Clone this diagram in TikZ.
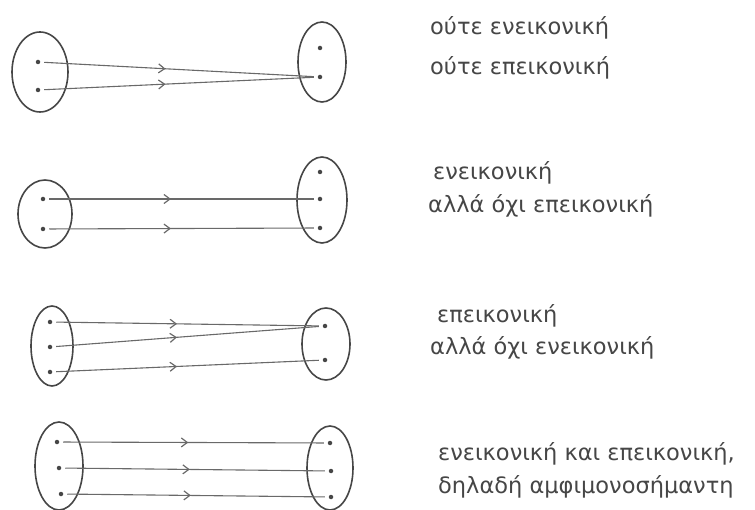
\documentclass[tikz,border=0pt]{standalone}
\usepackage{fontspec}
\setmainfont{DejaVu Sans}
\usetikzlibrary{shapes.geometric,decorations.markings,arrows.meta}
\definecolor{pencil}{RGB}{70,70,70}
\definecolor{lightpencil}{RGB}{105,105,105}
\tikzset{
 setbox/.style={ellipse,draw=pencil,line width=1.6pt,inner sep=0pt},
 pt/.style={circle,fill=pencil,inner sep=0pt,minimum size=4.5pt,outer sep=4pt},
 mapline/.style={draw=lightpencil,line width=1.1pt,postaction={decorate},
   decoration={markings,mark=at position #1 with {\arrow[lightpencil,line width=1.2pt]{Straight Barb[length=6pt,width=9pt]}}}},
 mapline/.default=0.5,
 lbl/.style={anchor=base west,text=pencil,inner sep=0pt,font=\fontsize{22.5}{22.5}\selectfont}
}
\begin{document}
\begin{tikzpicture}[x=1pt,y=-1pt]
\useasboundingbox (0,0) rectangle (755,510);
% Row 1
\node[setbox,minimum width=56pt,minimum height=80pt] (E1a) at (40,72) {};
\node[setbox,minimum width=48pt,minimum height=80pt] (E1b) at (322,62) {};
\node[pt] (a11) at (38,62) {};
\node[pt] (a12) at (38,90) {};
\node[pt] (b11) at (320,48) {};
\node[pt] (b12) at (320,77) {};
\draw[mapline=0.45] (a11) -- (b12);
\draw[mapline=0.45] (a12) -- (b12);
\node[lbl] (t11) at (430,35) {ούτε ενεικονική};
\node[lbl] (t12) at (430,75) {ούτε επεικονική};
% Row 2
\node[setbox,minimum width=54pt,minimum height=68pt] (E2a) at (45,214) {};
\node[setbox,minimum width=50pt,minimum height=86pt] (E2b) at (322,200) {};
\node[pt] (a21) at (43,199) {};
\node[pt] (a22) at (43,229) {};
\node[pt] (b21) at (320,172) {};
\node[pt] (b22) at (320,199) {};
\node[pt] (b23) at (320,228) {};
\draw[mapline=0.46] (a21) -- (b22);
\draw[mapline=0.46] (a22) -- (b23);
\node[lbl] (t21) at (433,180) {ενεικονική};
\node[lbl] (t22) at (428,213) {αλλά όχι επεικονική};
% Row 3
\node[setbox,minimum width=42pt,minimum height=80pt] (E3a) at (52,346) {};
\node[setbox,minimum width=48pt,minimum height=72pt] (E3b) at (326,344) {};
\node[pt] (a31) at (50,322) {};
\node[pt] (a32) at (50,347) {};
\node[pt] (a33) at (50,372) {};
\node[pt] (b31) at (325,326) {};
\node[pt] (b32) at (325,360) {};
\draw[mapline=0.46] (a31) -- (b31);
\draw[mapline=0.46] (a32) -- (b31);
\draw[mapline=0.46] (a33) -- (b32);
\node[lbl] (t31) at (437,323) {επεικονική};
\node[lbl] (t32) at (430,355) {αλλά όχι ενεικονική};
% Row 4
\node[setbox,minimum width=48pt,minimum height=88pt] (E4a) at (59,466) {};
\node[setbox,minimum width=46pt,minimum height=84pt] (E4b) at (330,468) {};
\node[pt] (a41) at (57,442) {};
\node[pt] (a42) at (59,468) {};
\node[pt] (a43) at (61,494) {};
\node[pt] (b41) at (330,443) {};
\node[pt] (b42) at (331,471) {};
\node[pt] (b43) at (331,497) {};
\draw[mapline=0.48] (a41) -- (b41);
\draw[mapline=0.48] (a42) -- (b42);
\draw[mapline=0.48] (a43) -- (b43);
\node[lbl] (t41) at (438,460) {ενεικονική και επεικονική,};
\node[lbl] (t42) at (438,493) {δηλαδή αμφιμονοσήμαντη};
\end{tikzpicture}
\end{document}
